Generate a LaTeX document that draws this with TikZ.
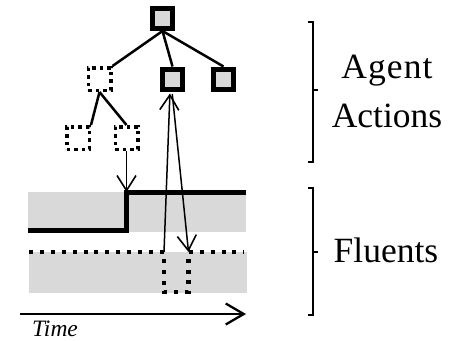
\documentclass[tikz,border=0pt]{standalone}
\usepackage{fontspec}
\setmainfont{Liberation Serif}
\usetikzlibrary{arrows.meta}
\begin{document}
\begin{tikzpicture}[x=1pt,y=-1pt,
  act/.style={draw,line width=5pt,fill=gray!30,minimum size=20pt,inner sep=0pt},
  hyp/.style={draw,line width=3.5pt,dash pattern=on 3.5pt off 4pt,minimum size=22.5pt,inner sep=0pt},
  edge/.style={line width=2.5pt},
  arr/.style={line width=1.5pt,-{Straight Barb[length=15pt,width=19pt,line width=1.6pt]}},
  band/.style={fill=gray!30},
  brk/.style={line width=2.3pt},
  big/.style={font=\fontsize{35.5}{49}\selectfont,inner sep=0pt,align=center}]
  \useasboundingbox (0,0) rectangle (454,340);
  \fill[band] (28,192) rectangle (246,232);
  \fill[band] (29,252) rectangle (247,293);
  \node[act] (r) at (162.5,18.5) {};
  \node[act] (m) at (172.5,79) {};
  \node[act] (rt) at (223.5,79) {};
  \node[hyp] (h) at (99.5,79) {};
  \node[hyp] (h1) at (78,138) {};
  \node[hyp] (h2) at (126.5,138) {};
  \draw[edge] (r.south)--(h.north east);
  \draw[edge] (r.south)--(m.north);
  \draw[edge] (r.south)--(rt.north);
  \draw[edge] (h.south)--(h1.north east);
  \draw[edge] (h.south)--(h2.north);
  \coordinate (rise) at (126.5,192);
  \coordinate (dipL) at (164,252);
  \coordinate (dipB) at (176,292);
  \coordinate (dipR) at (188.5,252);
  \draw[line width=5pt] (28,230)-|(rise)-|(246,192);
  \draw[line width=4.2pt,dash pattern=on 4pt off 6.9pt] (29,252)-|(dipL)|-(dipB)-|(dipR)--(244,252);
  \draw[arr] (h2.south)--(rise);
  \draw[arr,shorten >=2pt] (dipL)--([xshift=-2.5pt]m.south);
  \draw[arr,shorten <=2.5pt] ([xshift=-0.5pt]m.south)--(dipR);
  \coordinate (t0) at (20,314);
  \coordinate (t1) at (246,314);
  \draw[line width=2.3pt,-{Straight Barb[length=18pt,width=21pt,line width=2.3pt]}] (t0)--(t1);
  \node[anchor=base west,inner sep=0pt,font=\fontsize{23.5}{23.5}\selectfont\itshape] (time) at (32,336) {Time};
  \draw[brk] (308,22)-|(313,162)--(308,162);
  \draw[brk] (313,90)--(318,90);
  \draw[brk] (308,188)-|(313,315)--(308,315);
  \draw[brk] (313,252)--(318,252);
  \node[big,anchor=south] (agent) at (387,128) {{\addfontfeature{LetterSpace=3}Agent}\\Actions};
  \node[big,anchor=base] (fluents) at (386,262) {Fluents};
\end{tikzpicture}
\end{document}
